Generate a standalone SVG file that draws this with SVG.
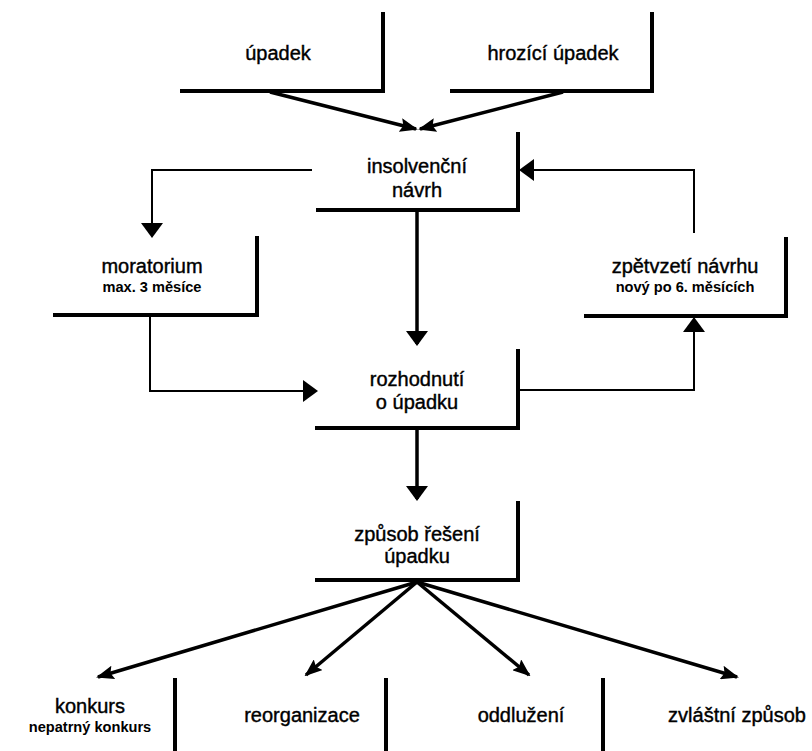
<svg xmlns="http://www.w3.org/2000/svg" width="812" height="751" viewBox="0 0 812 751">
<defs>
<style>
.box{fill:none;stroke:#000;stroke-width:4;stroke-linecap:square}
.t{font-family:"Liberation Sans",Arial,sans-serif;font-size:20px;fill:#000;stroke:#000;stroke-width:0.4;text-anchor:middle}
.s{font-family:"Liberation Sans",Arial,sans-serif;font-size:14.6px;font-weight:bold;fill:#000;text-anchor:middle}
.thin{fill:none;stroke:#000;stroke-width:2}
.thick{fill:none;stroke:#000;stroke-width:3.5}
.diag{fill:none;stroke:#000;stroke-width:3.5}
</style>
<marker id="ah" markerUnits="userSpaceOnUse" markerWidth="22" markerHeight="22" viewBox="0 0 15 22" refX="13" refY="11" orient="auto">
<path d="M0,0 L15,11 L0,22 Z" fill="#000"/>
</marker>
<marker id="ad" markerUnits="userSpaceOnUse" markerWidth="18" markerHeight="14" viewBox="0 0 18 14" refX="16" refY="7" orient="auto">
<path d="M0,0 L18,7 L0,14 L3,7 Z" fill="#000"/>
</marker>
</defs>
<rect width="812" height="751" fill="#fff"/>
<g id="connectors">
<path class="diag" d="M270,92 L416,129" marker-end="url(#ad)"/>
<path class="diag" d="M563,92 L420,129" marker-end="url(#ad)"/>
<path class="thin" d="M312,170 H152 V236" marker-end="url(#ah)"/>
<path class="thin" d="M694,233 V170 H521" marker-end="url(#ah)"/>
<path class="thick" d="M417,212 V344" marker-end="url(#ah)"/>
<path class="thin" d="M150,316 V391 H316" marker-end="url(#ah)"/>
<path class="thin" d="M520,390 H694 V319" marker-end="url(#ah)"/>
<path class="thick" d="M417,430 V499" marker-end="url(#ah)"/>
<path class="diag" d="M417,582 L98,677" marker-end="url(#ad)"/>
<path class="diag" d="M417,582 L306,675" marker-end="url(#ad)"/>
<path class="diag" d="M417,582 L529,675" marker-end="url(#ad)"/>
<path class="diag" d="M417,582 L737,677" marker-end="url(#ad)"/>
</g>
<g id="upadek">
<path class="box" d="M182,91 H383 V14"/>
<text class="t" x="278" y="60">úpadek</text>
</g>
<g id="hrozici-upadek">
<path class="box" d="M452,91 H652 V14"/>
<text class="t" x="553" y="60">hrozící úpadek</text>
</g>
<g id="insolvencni-navrh">
<path class="box" d="M318,210 H518 V134"/>
<text class="t" x="417" y="173">insolvenční</text>
<text class="t" x="417" y="197">návrh</text>
</g>
<g id="moratorium">
<path class="box" d="M55,315 H257 V238"/>
<text class="t" x="152" y="273">moratorium</text>
<text class="s" x="152" y="292">max. 3 měsíce</text>
</g>
<g id="zpetvzeti">
<path class="box" d="M586,316 H786 V239"/>
<text class="t" x="685" y="273">zpětvzetí návrhu</text>
<text class="s" x="685" y="292">nový po 6. měsících</text>
</g>
<g id="rozhodnuti">
<path class="box" d="M317,428 H518 V351"/>
<text class="t" x="417" y="386">rozhodnutí</text>
<text class="t" x="417" y="409">o úpadku</text>
</g>
<g id="zpusob-reseni">
<path class="box" d="M317,580 H518 V503"/>
<text class="t" x="417" y="541">způsob řešení</text>
<text class="t" x="417" y="563">úpadku</text>
</g>
<g id="konkurs">
<path class="box" d="M175,680 V760"/>
<text class="t" x="90" y="713">konkurs</text>
<text class="s" x="90" y="732">nepatrný konkurs</text>
</g>
<g id="reorganizace">
<path class="box" d="M386,680 V760"/>
<text class="t" x="302" y="722">reorganizace</text>
</g>
<g id="oddluzeni">
<path class="box" d="M603,680 V760"/>
<text class="t" x="521" y="722">oddlužení</text>
</g>
<g id="zvlastni-zpusob">
<text class="t" x="737" y="722">zvláštní způsob</text>
</g>
</svg>
